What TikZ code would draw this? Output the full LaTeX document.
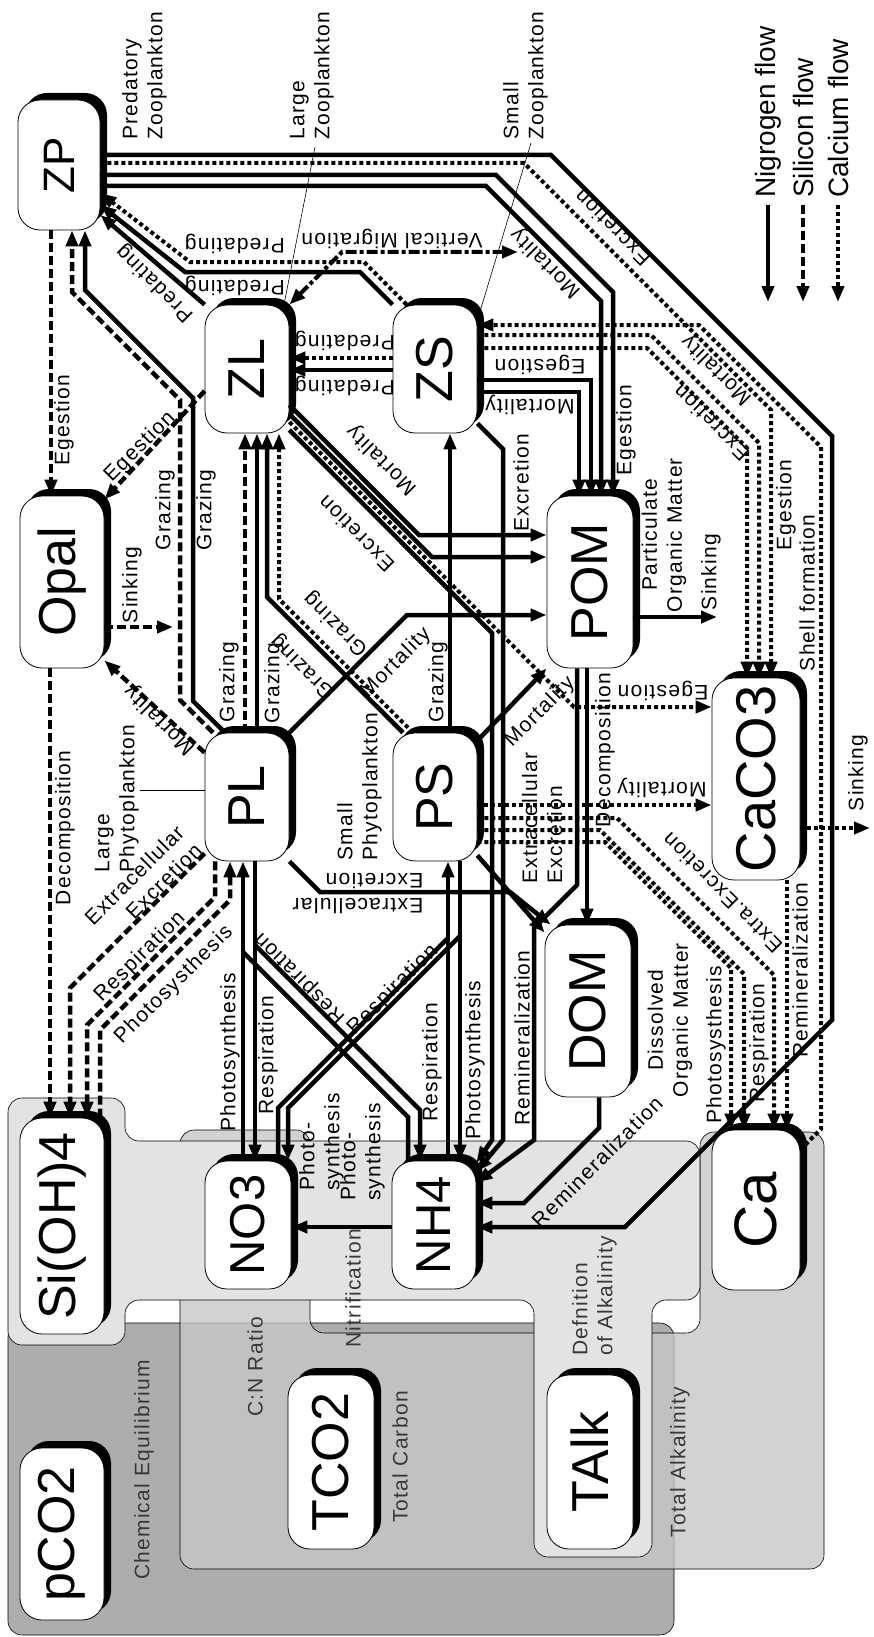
\documentclass[tikz,border=0pt]{standalone}
\usepackage{fontspec}
\setmainfont{Liberation Sans}
\newfontfamily\spacedfamily{Liberation Sans}[LetterSpace=6]
\usetikzlibrary{arrows.meta, shadows}
\definecolor{regdark}{gray}{0.68}
\definecolor{regmid}{gray}{0.78}
\definecolor{reglight}{gray}{0.89}
\definecolor{regtext}{gray}{0.22}
\newcommand{\poolfont}{\fontsize{52}{52}\selectfont}
\newcommand{\flowfont}{\spacedfamily\fontsize{21}{25}\selectfont}
\newcommand{\legendfont}{\fontsize{28}{30}\selectfont}
\newcommand{\uptext}[1]{\rotatebox{90}{#1}}
\tikzset{
    poolbox/.style={
        draw,
        line width=0.8pt,
        fill=white,
        rounded corners=22pt,
        inner sep=0pt,
        font=\poolfont,
        drop shadow={shadow xshift=7pt, shadow yshift=7pt, fill=black, opacity=1}
    },
    nflow/.style={line width=4.5pt},
    siflow/.style={line width=4.5pt, dash pattern=on 9pt off 4pt},
    caflow/.style={line width=4pt, dash pattern=on 4pt off 3pt},
    migflow/.style={line width=4pt, dash pattern=on 11pt off 3pt on 4pt off 3pt},
    headed/.style={-{Triangle[length=16pt,width=12pt]}},
    bothheaded/.style={{Triangle[length=16pt,width=12pt]}-{Triangle[length=16pt,width=12pt]}},
    flowlbl/.style={font=\flowfont, inner sep=1pt},
    reglbl/.style={font=\flowfont, text=regtext, inner sep=1pt},
    leader/.style={line width=0.6pt},
    regbox/.style={draw=black, line width=0.6pt, rounded corners=14pt}
}

\begin{document}
\begin{tikzpicture}[x=1pt, y=-1pt]
\useasboundingbox (0,0) rectangle (874,1637);

% Background regions
\path[regbox, fill=regdark] (8,1323) rectangle (674,1635);
\path[regbox, fill=regmid, fill opacity=0.8] (180,1130) -- (310,1130) -- (310,1333) -- (700,1333) -- (700,1132)
  -- (824,1132) -- (824,1569) -- (180,1569) -- cycle;
\path[regbox, fill=reglight] (8,1098) -- (125,1098) -- (125,1141) -- (700,1141) -- (700,1300) -- (652,1300)
  -- (652,1557) -- (534,1557) -- (534,1300) -- (125,1300) -- (125,1345) -- (8,1345) -- cycle;

% Pools
\node[poolbox, minimum width=82pt, minimum height=130pt, font=\fontsize{44}{44}\selectfont] (ZP) at (59,165) {\uptext{ZP}};
\node[poolbox, minimum width=84pt, minimum height=128pt] (ZL) at (247,369) {\uptext{ZL}};
\node[poolbox, minimum width=84pt, minimum height=128pt] (ZS) at (435,369) {\uptext{ZS}};
\node[poolbox, minimum width=84pt, minimum height=172pt] (Opal) at (62,582) {\uptext{Opal}};
\node[poolbox, minimum width=86pt, minimum height=172pt] (POM) at (590,582) {\uptext{POM}};
\node[poolbox, minimum width=84pt, minimum height=128pt] (PL) at (247,797) {\uptext{PL}};
\node[poolbox, minimum width=84pt, minimum height=128pt] (PS) at (435,797) {\uptext{PS}};
\node[poolbox, minimum width=88pt, minimum height=202pt, font=\fontsize{56}{56}\selectfont] (CaCO3) at (756,779) {\uptext{CaCO3}};
\node[poolbox, minimum width=86pt, minimum height=172pt] (DOM) at (588,1011) {\uptext{DOM}};
\node[poolbox, minimum width=84pt, minimum height=216pt] (SiOH) at (62,1226) {\uptext{Si(OH)4}};
\node[poolbox, minimum width=86pt, minimum height=128pt, font=\fontsize{49}{49}\selectfont] (NO3) at (248,1225) {\uptext{NO3}};
\node[poolbox, minimum width=84pt, minimum height=128pt, font=\fontsize{49}{49}\selectfont] (NH4) at (434,1225) {\uptext{NH4}};
\node[poolbox, minimum width=88pt, minimum height=160pt, font=\fontsize{60}{60}\selectfont] (Ca) at (756,1210) {\uptext{Ca}};
\node[poolbox, minimum width=84pt, minimum height=172pt] (pCO2) at (62,1534) {\uptext{pCO2}};
\node[poolbox, minimum width=86pt, minimum height=174pt] (TCO2) at (331,1462) {\uptext{TCO2}};
\node[poolbox, minimum width=86pt, minimum height=174pt] (TAlk) at (590,1462) {\uptext{TAlk}};

% Free ends and branch points
\coordinate (migEnd) at (518,252);
\coordinate (opalSink) at (173,627);
\coordinate (pomSink) at (717,617);
\coordinate (caco3Sink) at (870,828);
\coordinate (plResBranch) at (255,945);
\coordinate (plPhoBranch) at (243,952);
\coordinate (psResBranch) at (460,936);
\coordinate (psPhoBranch) at (448,938);
\coordinate (lzTag) at (315,147);
\coordinate (szTag) at (531,143);
\coordinate (lpTag) at (140,790);

% Leaders
\draw[leader] (lzTag) -- ([xshift=37pt]ZL.north);
\draw[leader] (szTag) -- ([yshift=49pt]ZS.east);
\draw[leader] (lpTag) -- ([yshift=7pt]PL.west);

% Zooplankton flows
\draw[siflow, headed] ([xshift=-8pt]ZP.south) -- ([xshift=-11pt]Opal.north);
\draw[siflow, headed] ([xshift=-34pt]PL.north) -- (180,700) -- (180,400) -- (72,292) -- ([xshift=13pt]ZP.south);
\draw[nflow, headed] ([xshift=-22pt]PL.north) -- (193,701) -- (193,398) -- (85,290) -- ([xshift=26pt]ZP.south);
\draw[nflow, headed] (ZL.north west) -- ([yshift=-50pt]ZP.east);
\draw[nflow, headed] (ZS.north west) -- (360,272) -- (185,272) -- ([yshift=-40pt]ZP.east);
\draw[caflow, headed] ([xshift=14pt]ZS.north west) -- (364,262) -- (190,262) -- ([yshift=-28pt]ZP.east);
\draw[caflow, headed] ([yshift=11pt]ZS.west) -- ([yshift=11pt]ZL.east);
\draw[nflow, headed] ([yshift=-1pt]ZS.west) -- ([yshift=-1pt]ZL.east);
\draw[migflow, bothheaded] (ZL.north east) -- (342,252) -- (migEnd);
\draw[nflow, headed] ([yshift=-10pt]ZP.east) -- (496,175) -- (613,292) -- ([xshift=23pt]POM.north);
\draw[nflow, headed] ([yshift=-21pt]ZP.east) -- (486,186) -- (601,301) -- ([xshift=11pt]POM.north);
\draw[nflow, headed] ([yshift=10pt]ZP.east) -- (551,155) -- (832,436) -- (832,1020) -- (625,1227) -- ([yshift=-2pt]NH4.east);
\draw[caflow, headed] ([yshift=2pt]ZP.east) -- (524,163) -- (771,410) -- ([xshift=15pt]CaCO3.north);
\draw[caflow, headed] ([yshift=-20pt]Ca.north east) -- (821,1129) -- (821,447) -- (699,325) -- ([yshift=44pt]ZS.east);
\draw[caflow, headed] ([yshift=34pt]ZS.east) -- (651,335) -- (759,443) -- ([xshift=3pt]CaCO3.north);
\draw[caflow, headed] ([yshift=21pt]ZS.east) -- (647,348) -- (747,448) -- ([xshift=-9pt]CaCO3.north);
\draw[nflow, headed] ([yshift=-11pt]ZS.east) -- (591,380) -- ([xshift=1pt]POM.north);
\draw[nflow, headed] ([yshift=-23pt]ZS.east) -- (579,392) -- ([xshift=-11pt]POM.north);
\draw[nflow, headed] ([yshift=10pt]ZS.south east) -- (503,449) -- (503,1140) -- ([yshift=-11pt]NH4.north east);
\draw[nflow, headed] ([yshift=-61pt]ZL.east) -- (492,633) -- (492,1140) -- ([yshift=-2pt]NH4.north east);
\draw[nflow, headed] ([yshift=-36pt]ZL.east) -- (419,535) -- ([yshift=47pt]POM.west);
\draw[nflow, headed] ([yshift=-45pt]ZL.east) -- (432,557) -- ([yshift=25pt]POM.west);
\draw[caflow, headed] ([yshift=-53pt]ZL.east) -- (574,707) -- ([yshift=72pt]CaCO3.west);

% Grazing and mortality of phytoplankton
\draw[siflow, headed] ([xshift=-2pt]PL.north) -- ([xshift=-2pt]ZL.south);
\draw[nflow, headed] ([xshift=10pt]PL.north) -- ([xshift=10pt]ZL.south);
\draw[nflow, headed] ([xshift=-32pt]PS.north) -- (267,597) -- ([xshift=20pt]ZL.south);
\draw[caflow, headed] ([xshift=-22pt]PS.north) -- (279,599) -- ([xshift=32pt]ZL.south);
\draw[nflow, headed] (PL.north east) -- (407,615) -- ([yshift=-33pt]POM.west);
\draw[nflow, headed] ([xshift=15pt]PS.north) -- ([xshift=15pt]ZS.south);
\draw[nflow, headed] ([yshift=-8pt]PS.north east) -- (POM.south west);
\draw[siflow, headed] ([yshift=-20pt]PL.north west) -- ([yshift=8pt]Opal.south east);
\draw[siflow, headed] ([yshift=-22pt]ZL.west) -- ([yshift=-4pt]Opal.north east);
\draw[siflow, headed] ([yshift=-45pt]Opal.east) -- (opalSink);
\draw[siflow, headed] ([xshift=-12pt]Opal.south) -- ([xshift=-12pt]SiOH.north);

% Silicon exchange of large phytoplankton
\draw[siflow, headed] ([yshift=8pt]PL.south west) -- (70,988) -- ([xshift=8pt]SiOH.north);
\draw[siflow, headed] ([xshift=-32pt]PL.south) -- (215,897) -- (87,1025) -- ([xshift=25pt]SiOH.north);
\draw[siflow, headed] ([xshift=38pt]SiOH.north) -- (100,1030) -- (230,900) -- ([xshift=-17pt]PL.south);

% Nutrients and phytoplankton
\draw[nflow, headed] ([xshift=-5pt]NO3.north) -- ([xshift=-4pt]PL.south);
\draw[nflow, headed] ([xshift=8pt]PL.south) -- ([xshift=7pt]NO3.north);
\draw[nflow, headed] (plResBranch) -- (420,1110) -- ([xshift=-14pt]NH4.north);
\draw[nflow] ([xshift=-26pt]NH4.north) -- (408,1117) -- (plPhoBranch);
\draw[nflow, headed] (psResBranch) -- (288,1108) -- ([xshift=40pt]NO3.north);
\draw[nflow] ([xshift=30pt]NO3.north) -- (278,1108) -- (psPhoBranch);
\draw[nflow, headed] ([xshift=14pt]NH4.north) -- ([xshift=13pt]PS.south);
\draw[nflow, headed] ([xshift=25pt]PS.south) -- ([xshift=26pt]NH4.north);
\draw[nflow, headed] ([yshift=-2pt]NH4.west) -- ([yshift=-2pt]NO3.east);

% Organic matter
\draw[nflow, headed] ([xshift=11pt]DOM.south) -- (599,1128) -- (524,1203) -- ([yshift=22pt]NH4.east);
\draw[nflow, headed] (PL.south east) -- (320,892) -- (510,892) -- ([xshift=6pt]DOM.north west);
\draw[nflow, headed] ([yshift=6pt]PS.south east) -- ([yshift=-8pt]DOM.north west);
\draw[nflow, headed] ([xshift=-3pt]POM.south) -- ([xshift=-1pt]DOM.north);
\draw[nflow, headed] ([xshift=-13pt]POM.south) -- (577,885) -- (534,928) -- (534,1140) -- ([yshift=-22pt]NH4.north east);
\draw[nflow, headed] ([yshift=-35pt]POM.east) -- (pomSink);

% Calcium
\draw[caflow, headed] ([yshift=-8pt]PS.east) -- ([yshift=-26pt]CaCO3.west);
\draw[caflow, headed] ([yshift=-21pt]PS.east) -- (617,818) -- (774,975) -- ([xshift=18pt]Ca.north);
\draw[caflow, headed] ([yshift=-33pt]PS.east) -- (600,830) -- (744,974) -- ([xshift=-12pt]Ca.north);
\draw[caflow, headed] ([yshift=-45pt]PS.east) -- (605,842) -- (731,968) -- ([xshift=-25pt]Ca.north);
\draw[caflow, headed] ([xshift=31pt]CaCO3.south) -- ([xshift=31pt]Ca.north);
\draw[caflow, headed] ([yshift=-49pt]CaCO3.east) -- (caco3Sink);

% Pool descriptions
\node[flowlbl, rotate=90, align=left, anchor=south west] (tZPname) at (168,141) {Predatory\\Zooplankton};
\node[flowlbl, rotate=90, align=left, anchor=south west] (tZLname) at (335,141) {Large\\Zooplankton};
\node[flowlbl, rotate=90, align=left, anchor=south west] (tZSname) at (549,141) {Small\\Zooplankton};
\node[flowlbl, rotate=90, align=left, anchor=south west] (tPLname) at (140,874) {Large\\Phytoplankton};
\node[flowlbl, rotate=90, align=left, anchor=south west] (tPSname) at (383,862) {Small\\Phytoplankton};
\node[flowlbl, rotate=90, align=center] (tPOMname) at (664,535) {Particulate\\Organic Matter};
\node[flowlbl, rotate=90, align=center] (tDOMname) at (670,1020) {Dissolved\\Organic Matter};

% Flow labels
\node[flowlbl, rotate=90] (tEgZP) at (64,420) {Egestion};
\node[flowlbl, rotate=90] (tGrZP1) at (165,510) {Grazing};
\node[flowlbl, rotate=90] (tGrZP2) at (206,510) {Grazing};
\node[flowlbl, rotate=135] (tPrZL) at (155,283) {Predating};
\node[flowlbl, rotate=180] (tPrZS1) at (235,244) {Predating};
\node[flowlbl, rotate=180] (tPrZS2) at (235,286) {Predating};
\node[flowlbl, rotate=180] (tVert) at (392,239) {Vertical Migration};
\node[flowlbl, rotate=180] (tPrSL1) at (345,341) {Predating};
\node[flowlbl, rotate=180] (tPrSL2) at (345,386) {Predating};
\node[flowlbl, rotate=180] (tEgZS) at (540,365) {Egestion};
\node[flowlbl, rotate=180] (tMoZS) at (530,405) {Mortality};
\node[flowlbl, rotate=135] (tMoZP) at (546,263) {Mortality};
\node[flowlbl, rotate=135] (tExZP) at (612,228) {Excretion};
\node[flowlbl, rotate=135] (tMoCa) at (717,370) {Mortality};
\node[flowlbl, rotate=135] (tExCa) at (711,423) {Excretion};
\node[flowlbl, rotate=90] (tExZS) at (521,483) {Excretion};
\node[flowlbl, rotate=90] (tEgPOM) at (626,430) {Egestion};
\node[flowlbl, rotate=135] (tMoZL) at (382,460) {Mortality};
\node[flowlbl, rotate=135] (tExZL) at (356,534) {Excretion};
\node[flowlbl, rotate=45] (tEgZL) at (140,447) {Egestion};
\node[flowlbl, rotate=90] (tSiOpal) at (132,585) {Sinking};
\node[flowlbl, rotate=135] (tMoPL) at (160,720) {Mortality};
\node[flowlbl, rotate=90] (tGrPL1) at (229,682) {Grazing};
\node[flowlbl, rotate=90] (tGrPL2) at (274,683) {Grazing};
\node[flowlbl, rotate=135] (tGrPS1) at (336,624) {Grazing};
\node[flowlbl, rotate=135] (tGrPS2) at (303,667) {Grazing};
\node[flowlbl, rotate=90] (tGrPS3) at (438,682) {Grazing};
\node[flowlbl, rotate=45] (tMoPL2) at (396,663) {Mortality};
\node[flowlbl, rotate=45] (tMoPS) at (540,712) {Mortality};
\node[flowlbl, rotate=90] (tSiPOM) at (711,572) {Sinking};
\node[flowlbl, rotate=90] (tDePOM) at (605,750) {Decomposition};
\node[flowlbl, rotate=180] (tEgCa) at (663,691) {Egestion};
\node[flowlbl, rotate=180] (tMoCa2) at (662,788) {Mortality};
\node[flowlbl, rotate=90] (tEgCa2) at (786,505) {Egestion};
\node[flowlbl, rotate=90] (tShell) at (807,593) {Shell formation};
\node[flowlbl, rotate=90] (tSiCa) at (858,773) {Sinking};
\node[flowlbl, rotate=90, align=left] (tExPS) at (542,818) {Extracellular\\Excretion};
\node[flowlbl, rotate=180, align=left] (tExPL) at (358,893) {Extracellular\\Excretion};
\node[flowlbl, rotate=135] (tExCa2) at (722,893) {Extra.Excretion};
\node[flowlbl, rotate=90] (tPhCa) at (716,1045) {Photosysthesis};
\node[flowlbl, rotate=90] (tReCa) at (759,1043) {Respiration};
\node[flowlbl, rotate=90] (tRmCa) at (800,970) {Remineralization};
\node[flowlbl, rotate=45] (tRmDOM) at (597,1162) {Remineralization};
\node[flowlbl, rotate=90] (tRmPOM) at (522,1038) {Remineralization};
\node[flowlbl, rotate=90] (tPhPS) at (475,1060) {Photosynthesis};
\node[flowlbl, rotate=90] (tRePS) at (432,1062) {Respiration};
\node[flowlbl, rotate=90] (tPhPL) at (230,1052) {Photosynthesis};
\node[flowlbl, rotate=90] (tRePL) at (268,1055) {Respiration};
\node[flowlbl, rotate=135] (tRePLx) at (300,978) {Respiration};
\node[flowlbl, rotate=45] (tRePSx) at (393,990) {Respiration};
\node[flowlbl, rotate=45, align=right] (tExSi) at (143,884) {Extracellular\\Excretion};
\node[flowlbl, rotate=45] (tReSi) at (140,957) {Respiration};
\node[flowlbl, rotate=45] (tPhSi) at (174,985) {Photosysthesis};
\node[flowlbl, rotate=90] (tDeOpal) at (65,828) {Decomposition};
\node[flowlbl, rotate=90, align=left, anchor=south west] (tPhNO3) at (345,1192) {Photo-\\synthesis};
\node[flowlbl, rotate=90, align=left, anchor=south west] (tPhNH4) at (386,1202) {Photo-\\synthesis};
\node[reglbl, rotate=90] (tNitr) at (353,1288) {Nitrification};

% Region labels
\node[reglbl, rotate=90] (tChem) at (144,1470) {Chemical Equilibrium};
\node[reglbl, rotate=90] (tCN) at (255,1367) {C:N Ratio};
\node[reglbl, rotate=90] (tTC) at (400,1457) {Total Carbon};
\node[reglbl, rotate=90, align=left, anchor=south west] (tDefAlk) at (618,1357) {Defnition\\of Alkalinity};
\node[reglbl, rotate=90] (tTA) at (680,1462) {Total Alkalinity};

% Legend
\coordinate (legNa) at (768,205); \coordinate (legNb) at (768,302);
\coordinate (legSa) at (803,205); \coordinate (legSb) at (803,302);
\coordinate (legCa) at (838,205); \coordinate (legCb) at (838,302);
\draw[nflow, headed] (legNa) -- (legNb);
\draw[siflow, headed] (legSa) -- (legSb);
\draw[caflow, headed] (legCa) -- (legCb);
\node[rotate=90, anchor=west, font=\legendfont, inner sep=1pt] (legN) at (768,199) {Nigrogen flow};
\node[rotate=90, anchor=west, font=\legendfont, inner sep=1pt] (legS) at (803,199) {Silicon flow};
\node[rotate=90, anchor=west, font=\legendfont, inner sep=1pt] (legC) at (838,199) {Calcium flow};

\end{tikzpicture}
\end{document}
